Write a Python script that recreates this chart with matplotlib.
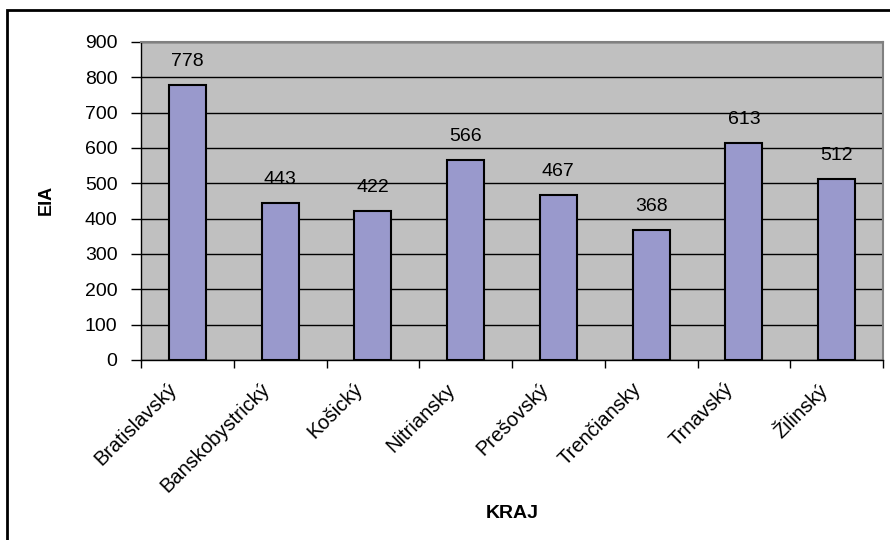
import matplotlib.pyplot as plt
import matplotlib.transforms as mtransforms
from matplotlib.patches import Rectangle
import numpy as np

plt.rcParams['font.family'] = ['Liberation Sans', 'DejaVu Sans']

regions = ["Bratislavský", "Banskobystrický", "Košický", "Nitriansky",
           "Prešovský", "Trenčiansky", "Trnavský", "Žilinský"]
eia = [778, 443, 422, 566, 467, 368, 613, 512]

W, H = 890, 540
fig = plt.figure(figsize=(W / 100, H / 100), dpi=100)
ax = fig.add_axes([141 / W, 1 - 360 / H, (883 - 141) / W, (360 - 42) / H])

# outer chart frame (only top/left edges are inside the picture)
fig.patches.append(Rectangle((7 / W, -0.1), 1.2, 1 - 10 / H + 0.1,
                             transform=fig.transFigure, fill=False,
                             edgecolor='black', linewidth=2))

x = np.arange(len(regions))
ax.set_facecolor('#C0C0C0')
ax.bar(x, eia, width=0.4, color='#9999CC', edgecolor='black', linewidth=1.5, zorder=3)

for xi, v in zip(x, eia):
    ax.annotate(str(v), (xi, v), xytext=(0, 11), textcoords='offset points',
                ha='center', va='bottom', fontsize=14, zorder=4)

ax.set_ylim(0, 900)
ax.set_xlim(-0.5, len(regions) - 0.5)
ax.set_yticks(range(0, 901, 100))
ax.yaxis.grid(True, color='black', linewidth=1)
ax.set_axisbelow(True)

# ticks between categories, labels at centres
ax.set_xticks(np.arange(-0.5, len(regions), 1.0))
ax.set_xticklabels([])
ax.set_xticks(x, minor=True)
ax.set_xticklabels(regions, minor=True, rotation=45, ha='right',
                   rotation_mode='anchor', fontsize=14.5)
ax.tick_params(axis='x', which='minor', length=0, pad=14)
ax.tick_params(axis='x', which='major', length=6, direction='out', width=1)
ax.tick_params(axis='y', length=7, width=1, labelsize=14, pad=10)

shift = mtransforms.ScaledTranslation(-0.2, 0, fig.dpi_scale_trans)
for lbl in ax.get_xticklabels(minor=True):
    lbl.set_transform(lbl.get_transform() + shift)

for s in ['top', 'right']:
    ax.spines[s].set_color('#808080')
    ax.spines[s].set_linewidth(1.5)
for s in ['left', 'bottom']:
    ax.spines[s].set_color('black')
    ax.spines[s].set_linewidth(1)

fig.text(512 / W, 1 - 513 / H, 'KRAJ', ha='center', va='center',
         fontsize=14, fontweight='bold')
fig.text(46 / W, 1 - 200 / H, 'EIA', ha='center', va='center',
         rotation=90, fontsize=13, fontweight='bold')

fig.savefig('out.png', dpi=100)
